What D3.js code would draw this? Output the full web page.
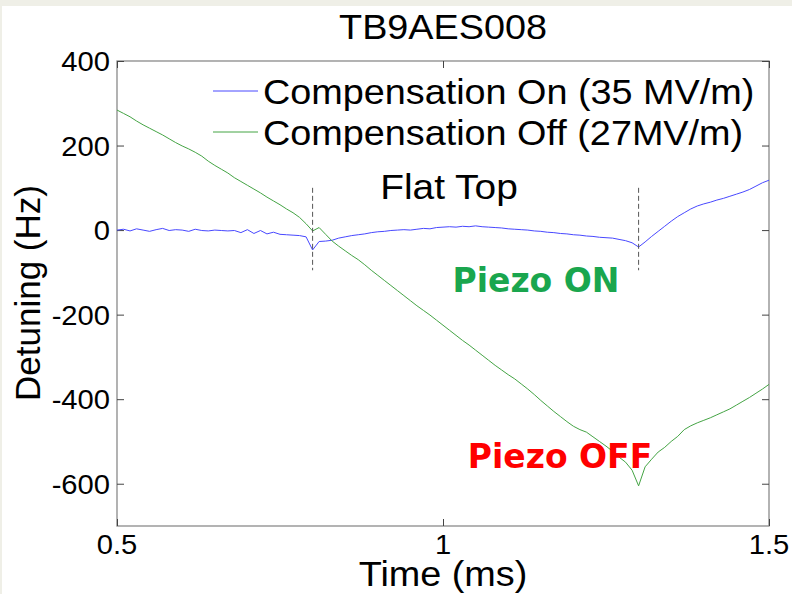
<!DOCTYPE html>
<html>
<head>
<meta charset="utf-8">
<script src="https://cdn.jsdelivr.net/npm/d3@7"></script>
<style>
  body { margin: 0; background: #efefe7; }
  svg { display: block; }
  text { font-family: "Liberation Sans", Arial, sans-serif; fill: #000; }
</style>
</head>
<body>
<svg id="chart" width="792" height="594"></svg>
<script>
// Time axis (ms)
const time = [
  0.50, 0.51, 0.52, 0.53, 0.54, 0.55, 0.56, 0.57, 0.58, 0.59,
  0.60, 0.61, 0.62, 0.63, 0.64, 0.65, 0.66, 0.67, 0.68, 0.69,
  0.70, 0.71, 0.72, 0.73, 0.74, 0.75, 0.76, 0.77, 0.78, 0.79,
  0.80, 0.81, 0.82, 0.83, 0.84, 0.85, 0.86, 0.87, 0.88, 0.89,
  0.90, 0.91, 0.92, 0.93, 0.94, 0.95, 0.96, 0.97, 0.98, 0.99,
  1.00, 1.01, 1.02, 1.03, 1.04, 1.05, 1.06, 1.07, 1.08, 1.09,
  1.10, 1.11, 1.12, 1.13, 1.14, 1.15, 1.16, 1.17, 1.18, 1.19,
  1.20, 1.21, 1.22, 1.23, 1.24, 1.25, 1.26, 1.27, 1.28, 1.29,
  1.30, 1.31, 1.32, 1.33, 1.34, 1.35, 1.36, 1.37, 1.38, 1.39,
  1.40, 1.41, 1.42, 1.43, 1.44, 1.45, 1.46, 1.47, 1.48, 1.49,
  1.50
];

// Detuning with piezo compensation on, 35 MV/m (Hz)
const detuningOn = [
    0,   2,  -2,   3,   0,  -3,   1,   4,  -1,   1,
    0,  -3,   2,  -1,  -2,   0,  -1,  -2,  -1,  -6,
    1,  -8,  -1,  -9,  -5, -10, -11, -12, -13, -16,
  -47, -27, -26, -24, -19, -16, -13, -11,  -9,  -6,
   -4,  -3,  -1,   0,   1,   0,   2,   4,   3,   6,
    7,   8,   7,   9,   8,  10,   8,   7,   6,   5,
    3,   2,   1,   0,  -2,  -3,  -5,  -6,  -8,  -9,
  -11, -12, -14, -15, -17, -18, -19, -22, -25, -30,
  -40, -28, -15,  -3,   9,  21,  32,  41,  50,  57,
   62,  66,  71,  75,  80,  85,  90,  96, 104, 112,
  118
];

// Detuning with compensation off, 27 MV/m (Hz)
const detuningOff = [
   284,  276,  268,  258,  249,  241,  233,  225,  216,  207,
   199,  192,  184,  175,  163,  153,  144,  135,  124,  115,
   106,   97,   88,   78,   69,   60,   50,   41,   30,   15,
    -2,    6,  -10,  -26,  -38,  -49,  -60,  -70,  -82,  -95,
  -107, -119, -131, -143, -155, -167, -179, -190, -201, -213,
  -225, -237, -249, -261, -272, -284, -296, -308, -320, -331,
  -342, -352, -364, -376, -389, -403, -416, -429, -441, -453,
  -464, -472, -478, -489, -500, -511, -523, -537, -549, -568,
  -605, -560, -542, -525, -514, -500, -488, -472, -463, -456,
  -450, -444, -437, -430, -423, -414, -405, -396, -386, -376,
  -365
];

const seriesNames = ["Compensation On (35 MV/m)", "Compensation Off (27MV/m)"];
const seriesColors = ["#4848ff", "#44a444"];
const xTicks = [0.5, 1, 1.5];
const yTicks = [-600, -400, -200, 0, 200, 400];
const flatTopEdges = [0.8, 1.3];     // start / end of the RF flat top (ms)
const markerSpan = [100, -95];        // vertical extent of the flat-top markers (Hz)

const svg = d3.select("#chart");
const W = 792, H = 594;
const mLeft = 117, mRight = 769, mTop = 61, mBottom = 526;
const SX = 1.08; // horizontal stretch of the lettering

svg.append("rect").attr("x", 0).attr("y", 0).attr("width", W).attr("height", H).attr("fill", "#efefe7");
svg.append("rect").attr("x", 2).attr("y", 6).attr("width", W - 2).attr("height", H - 6).attr("fill", "#fff");

const x = d3.scaleLinear().domain([0.5, 1.5]).range([mLeft, mRight]);
const y = d3.scaleLinear().domain([-700, 400]).range([mBottom, mTop]);

function label(g, str, px, py, size, anchor, sx) {
  return g.append("text")
    .attr("transform", `translate(${px},${py}) scale(${sx},1)`)
    .attr("text-anchor", anchor)
    .style("font-size", size + "px")
    .text(str);
}

// Plot box
svg.append("rect")
  .attr("x", mLeft).attr("y", mTop)
  .attr("width", mRight - mLeft).attr("height", mBottom - mTop)
  .attr("fill", "#fff").attr("stroke", "#8a8a8a").attr("stroke-width", 1.3);

// Axes with inward ticks on all four sides
const tickLen = 7;
const axB = svg.append("g").attr("transform", `translate(0,${mBottom})`)
  .call(d3.axisBottom(x).tickValues(xTicks).tickSize(-tickLen).tickFormat(""));
const axT = svg.append("g").attr("transform", `translate(0,${mTop})`)
  .call(d3.axisTop(x).tickValues(xTicks).tickSize(-tickLen).tickFormat(""));
const axL = svg.append("g").attr("transform", `translate(${mLeft},0)`)
  .call(d3.axisLeft(y).tickValues(yTicks).tickSize(-tickLen).tickFormat(""));
const axR = svg.append("g").attr("transform", `translate(${mRight},0)`)
  .call(d3.axisRight(y).tickValues(yTicks).tickSize(-tickLen).tickFormat(""));
[axB, axT, axL, axR].forEach(a => {
  a.select(".domain").remove();
  a.selectAll(".tick line").attr("stroke", "#444").attr("stroke-width", 1);
});

// Tick labels
const lab = svg.append("g");
xTicks.forEach(v => label(lab, String(v), x(v), 554, 27, "middle", SX));
yTicks.forEach(v => label(lab, String(v), mLeft - 7, y(v) + 10, 27, "end", SX));

// Axis titles and chart title
label(svg, "Time (ms)", (mLeft + mRight) / 2, 586, 35, "middle", SX);
svg.append("text")
  .attr("transform", `translate(40,293) rotate(-90)`)
  .attr("text-anchor", "middle").style("font-size", "35px").text("Detuning (Hz)");
label(svg, "TB9AES008", (mLeft + mRight) / 2, 39, 35, "middle", SX);

// Data lines
const plot = svg.append("g");
const line = d3.line().x((d, i) => x(time[i])).y(d => y(d));
[detuningOn, detuningOff].forEach((vals, k) => {
  plot.append("path").datum(vals)
    .attr("d", line)
    .attr("fill", "none")
    .attr("stroke", seriesColors[k])
    .attr("stroke-width", 1);
});

// Flat-top markers
flatTopEdges.forEach(t => {
  plot.append("line")
    .attr("x1", x(t)).attr("x2", x(t))
    .attr("y1", y(markerSpan[0])).attr("y2", y(markerSpan[1]))
    .attr("stroke", "#555").attr("stroke-width", 1)
    .attr("stroke-dasharray", "5,3");
});

// Legend
const leg = svg.append("g");
seriesNames.forEach((name, k) => {
  const ly = 91 + k * 41;
  leg.append("line").attr("x1", 213).attr("x2", 258).attr("y1", ly).attr("y2", ly)
    .attr("stroke", seriesColors[k]).attr("stroke-width", 1);
  label(leg, name, 263, ly + 13, 35, "start", SX);
});

// Annotations
label(svg, "Flat Top", 449, 199, 36, "middle", SX);
svg.append("text").attr("x", 536).attr("y", 292).attr("text-anchor", "middle")
  .style("font-family", "'DejaVu Sans', sans-serif").style("font-weight", "bold")
  .style("font-size", "33px").style("fill", "#1aa64e").text("Piezo ON");
svg.append("text").attr("x", 560).attr("y", 468).attr("text-anchor", "middle")
  .style("font-family", "'DejaVu Sans', sans-serif").style("font-weight", "bold")
  .style("font-size", "33px").style("fill", "#ff0000").text("Piezo OFF");
</script>
</body>
</html>
